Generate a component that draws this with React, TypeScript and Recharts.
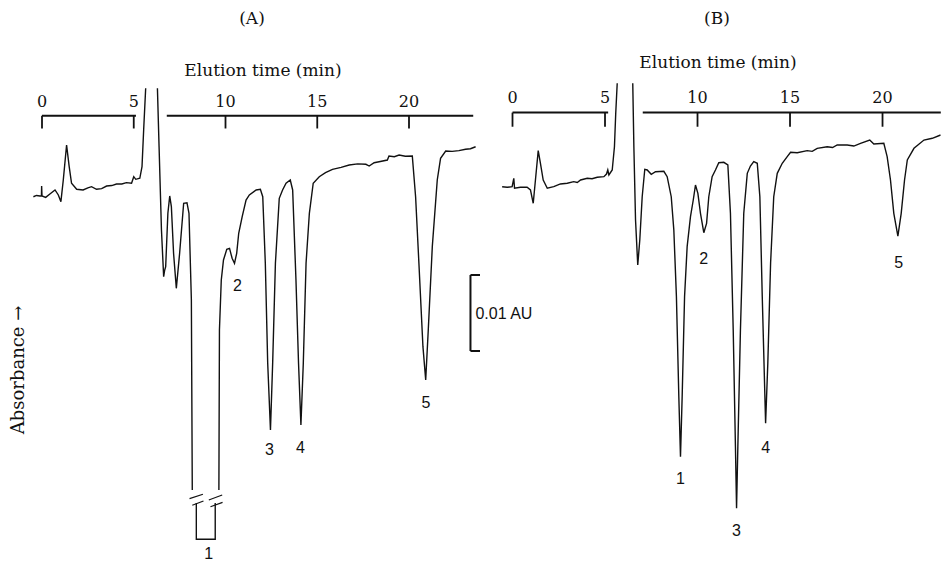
import { LineChart, Line, XAxis, YAxis, ReferenceLine, ReferenceDot } from "recharts";

// elution time (min), absorbance (mAU, baseline-relative); traces
const runA_early: [number, number][] = [
  [-0.47, 0.43], [-0.3, 0.6], [-0.11, 0.53], [-0.03, 0.53], [-0.02, 1.84], [0, 0.53], [0.2, 0.35],
  [0.43, 0.79], [0.71, 1.32], [0.89, 0.66], [1.03, -0.22], [1.16, 2.63], [1.34, 7.24], [1.48, 4.43],
  [1.61, 2.2], [1.89, 1.41], [2.24, 1.32], [2.5, 1.6], [2.7, 1.75], [2.97, 1.41], [3.25, 1.5],
  [3.52, 1.84], [3.8, 1.9], [4.06, 2.11], [4.35, 2.1], [4.6, 2.28], [4.88, 2.2], [5.0, 3.07],
  [5.11, 2.72], [5.33, 2.86], [5.45, 4.38], [5.54, 9.21], [5.65, 14.7],
];
const runA_front: [number, number][] = [
  [6.29, 14.7], [6.38, 7.01], [6.51, -3.95], [6.63, -10.09], [6.68, -9.3], [6.74, -8.78], [6.86, -1.75],
  [6.96, 0.53], [7.05, -0.88], [7.17, -7.01], [7.32, -11.62], [7.5, -7.01], [7.72, -0.43], [7.9, -0.36],
  [8.01, -1.75], [8.14, -13.16], [8.19, -38.16],
];
// truncated tip of peak 1
const runA_tip: [number, number][] = [
  [8.41, -39.87], [8.41, -44.64], [9.44, -44.64], [9.44, -39.87],
];
const runA_late: [number, number][] = [
  [9.64, -38.16], [9.67, -17.11], [9.77, -10.53], [9.89, -7.89], [10.07, -6.49], [10.22, -6.36],
  [10.36, -7.67], [10.49, -8.33], [10.61, -7.01], [10.72, -4.38], [10.91, -2.2], [11.12, 0],
  [11.3, 0.66], [11.67, 1.32], [11.9, 1.41], [12.03, 0.43], [12.17, -8.33], [12.3, -21.49],
  [12.45, -30.26], [12.57, -21.49], [12.72, -8.33], [12.93, 0.22], [13.11, 1.32], [13.3, 2.2],
  [13.53, 2.63], [13.66, 1.32], [13.84, -10.53], [13.98, -21.49], [14.11, -29.61], [14.24, -21.49],
  [14.39, -8.33], [14.57, -1.75], [14.78, 2.2], [15.11, 3.07], [15.45, 3.6], [15.83, 4.04],
  [16.3, 4.3], [16.74, 4.61], [17.2, 4.75], [17.65, 4.7], [17.83, 4.47], [18.1, 4.9], [18.37, 5.04],
  [18.82, 5.26], [18.91, 5.79], [19.2, 5.7], [19.46, 5.92], [19.8, 5.75], [20.18, 5.79], [20.36, 0.43],
  [20.54, -8.33], [20.76, -19.3], [20.91, -23.68], [21.05, -17.11], [21.27, -6.14], [21.54, 2.63],
  [21.72, 5.49], [22.0, 6.45], [22.35, 6.4], [22.72, 6.49], [23.08, 6.67], [23.35, 6.75], [23.63, 7.01],
];

const runB_early: [number, number][] = [
  [-0.56, 1.75], [-0.29, 1.67], [-0.02, 1.75], [0.07, 2.86], [0.11, 1.54], [0.43, 1.67], [0.79, 1.67],
  [0.97, 1.32], [1.12, -0.43], [1.24, 2.63], [1.39, 6.49], [1.51, 4.83], [1.66, 2.63], [1.88, 1.54],
  [2.23, 1.75], [2.59, 2.11], [2.96, 2.2], [3.31, 2.41], [3.5, 2.3], [3.68, 2.63], [4.04, 2.86],
  [4.3, 2.8], [4.58, 2.99], [4.94, 3.07], [5.08, 3.42], [5.15, 3.95], [5.21, 3.29], [5.39, 3.95],
  [5.51, 7.01], [5.58, 11.41], [5.66, 15.36],
];
const runB_late: [number, number][] = [
  [6.5, 15.36], [6.56, 7.01], [6.65, -2.63], [6.77, -8.55], [6.88, -5.26], [7.01, 0.43], [7.15, 4.04],
  [7.28, 3.95], [7.5, 3.38], [7.73, 3.72], [8.18, 3.78], [8.36, 3.07], [8.58, 0.43], [8.72, -3.95],
  [8.86, -12.72], [8.99, -25.88], [9.08, -33.78], [9.17, -25.88], [9.3, -12.72], [9.44, -6.14],
  [9.62, -2.2], [9.77, 0], [9.89, 1.97], [10.02, 0.88], [10.16, -1.75], [10.34, -4.3], [10.49, -3.07],
  [10.61, 0.43], [10.79, 3.07], [10.97, 3.95], [11.15, 4.91], [11.42, 4.96], [11.64, 4.61],
  [11.78, -1.75], [11.93, -17.11], [12.05, -32.46], [12.11, -40.57], [12.18, -32.46], [12.32, -17.11],
  [12.5, -1.75], [12.69, 3.51], [12.86, 4.47], [13.04, 5.04], [13.23, 4.83], [13.37, 0.43],
  [13.5, -12.72], [13.68, -29.38], [13.8, -21.49], [13.95, -8.33], [14.12, 0.43], [14.31, 3.51],
  [14.58, 4.83], [14.85, 5.7], [15.03, 6.28], [15.39, 6.22], [15.93, 6.49], [16.2, 6.4], [16.47, 6.8],
  [17.01, 7.01], [17.3, 6.9], [17.55, 7.24], [18.09, 7.24], [18.45, 7.1], [18.81, 7.46], [19.31, 7.89],
  [19.53, 7.37], [20.07, 7.46], [20.25, 5.7], [20.43, 2.63], [20.61, -1.75], [20.83, -4.74],
  [21.01, -1.75], [21.19, 2.63], [21.34, 5.26], [21.7, 6.8], [22.24, 7.89], [22.69, 8.12], [23.14, 8.55],
];

const peakNames = ["1", "2", "3", "4", "5"];
const peakLabelsA: [number, number][] = [[9.08, -46.45], [10.65, -11.18], [12.39, -32.76], [14.08, -32.5], [20.92, -26.58]];
const peakLabelsB: [number, number][] = [[9.08, -36.58], [10.34, -7.67], [12.11, -43.42], [13.68, -32.5], [20.88, -8.25]];

// "//" marks where peak 1 in (A) is cut
const breakMarksA: [number, number, number, number][] = [
  [8.04, -39.3, 8.77, -38.72], [8.19, -40.17, 8.8, -39.61],
  [9.09, -39.47, 9.82, -38.82], [9.18, -40.36, 9.84, -39.78],
];

const timeTicks = [0, 5, 10, 15, 20];
// time axis drawn in two pieces, broken around the solvent front
const axisPiecesA: [number, number][] = [[0, 5.12], [6.8, 23.5]];
const axisPiecesB: [number, number][] = [[0, 5.17], [7.04, 23.15]];

const scaleBar = { t: 23.35, top: -9.87, size: 10, label: "0.01 AU" }; // 10 mAU

const INK = "#111";
const serif = "DejaVu Serif";
const sans = "Liberation Sans";

const toRows = (pts: [number, number][]) => pts.map(([t, v]) => ({ t, v }));

interface PanelProps {
  runs: [number, number][][];
  labels: [number, number][];
  pieces: [number, number][];
  axisY: number;
  tickEnd: number;
  tickLabelY: number;
  domainX: [number, number];
  left: number;
  right: number;
  extra?: React.ReactNode[];
}

const Panel = ({ runs, labels, pieces, axisY, tickEnd, tickLabelY, domainX, left, right, extra }: PanelProps) => (
  <div style={{ position: "absolute", left: 0, top: 0 }}>
    <LineChart width={941} height={563} margin={{ top: 25.2, bottom: 5.8, left, right }}>
      <XAxis type="number" dataKey="t" domain={domainX} allowDataOverflow hide />
      <YAxis type="number" dataKey="v" domain={[-47, 23]} allowDataOverflow hide />
      {pieces.map(([a, b], i) => (
        <ReferenceLine
          key={"ax" + i}
          segment={[{ x: a, y: axisY }, { x: b, y: axisY }]}
          stroke={INK}
          strokeWidth={2}
        />
      ))}
      {timeTicks.map((t) => (
        <ReferenceLine
          key={"tk" + t}
          segment={[{ x: t, y: axisY }, { x: t, y: tickEnd }]}
          stroke={INK}
          strokeWidth={1.8}
        />
      ))}
      {timeTicks.map((t) => (
        <ReferenceDot
          key={"tl" + t}
          x={t}
          y={tickLabelY}
          r={1}
          fill="none"
          stroke="none"
          label={{ value: String(t), position: "center", fill: INK, fontSize: 16, fontFamily: serif }}
        />
      ))}
      {runs.map((run, i) => (
        <Line
          key={"run" + i}
          data={toRows(run)}
          dataKey="v"
          type="linear"
          stroke={INK}
          strokeWidth={1.4}
          dot={false}
          activeDot={false}
          isAnimationActive={false}
        />
      ))}
      {labels.map(([t, v], i) => (
        <ReferenceDot
          key={"pk" + i}
          x={t}
          y={v}
          r={1}
          fill="none"
          stroke="none"
          label={{ value: peakNames[i], position: "center", fill: INK, fontSize: 16, fontFamily: sans }}
        />
      ))}
      {extra}
    </LineChart>
  </div>
);

const extrasA = [
  ...breakMarksA.map(([x1, y1, x2, y2], i) => (
    <ReferenceLine key={"br" + i} segment={[{ x: x1, y: y1 }, { x: x2, y: y2 }]} stroke={INK} strokeWidth={1.2} />
  )),
  <ReferenceLine
    key="sb"
    segment={[{ x: scaleBar.t, y: scaleBar.top }, { x: scaleBar.t, y: scaleBar.top - scaleBar.size }]}
    stroke={INK}
    strokeWidth={2}
    label={{ value: scaleBar.label, position: "right", offset: 5, fill: INK, fontSize: 16, fontFamily: sans }}
  />,
  <ReferenceLine
    key="sbt"
    segment={[{ x: scaleBar.t, y: scaleBar.top }, { x: scaleBar.t + 0.52, y: scaleBar.top }]}
    stroke={INK}
    strokeWidth={2}
  />,
  <ReferenceLine
    key="sbb"
    segment={[{ x: scaleBar.t, y: scaleBar.top - scaleBar.size }, { x: scaleBar.t + 0.52, y: scaleBar.top - scaleBar.size }]}
    stroke={INK}
    strokeWidth={2}
  />,
];

const textStyle = (x: number, y: number, size: number, rotate = 0): React.CSSProperties => ({
  position: "absolute",
  left: x,
  top: y,
  transform: `translate(-50%, -50%) rotate(${rotate}deg)`,
  fontFamily: serif,
  fontSize: size,
  lineHeight: 1,
  color: INK,
  whiteSpace: "nowrap",
});

export default function App() {
  return (
    <div style={{ position: "absolute", left: 0, top: 0, width: 941, height: 563, background: "#fff", overflow: "hidden" }}>
      <Panel
        runs={[runA_early, runA_front, runA_tip, runA_late]}
        labels={peakLabelsA}
        pieces={axisPiecesA}
        axisY={11.09}
        tickEnd={9.41}
        tickLabelY={13.03}
        domainX={[-1, 24]}
        left={23.65}
        right={458.6}
        extra={extrasA}
      />
      <Panel
        runs={[runB_early, runB_late]}
        labels={peakLabelsB}
        pieces={axisPiecesB}
        axisY={11.5}
        tickEnd={9.64}
        tickLabelY={13.55}
        domainX={[-1, 23.15]}
        left={494}
        right={0.2}
      />
      <div style={textStyle(252, 18, 17)}>(A)</div>
      <div style={textStyle(717, 18, 17)}>(B)</div>
      <div style={textStyle(263, 70, 17)}>Elution time (min)</div>
      <div style={textStyle(718, 62, 17)}>Elution time (min)</div>
      <div style={textStyle(18, 370, 18, -90)}>Absorbance →</div>
    </div>
  );
}
